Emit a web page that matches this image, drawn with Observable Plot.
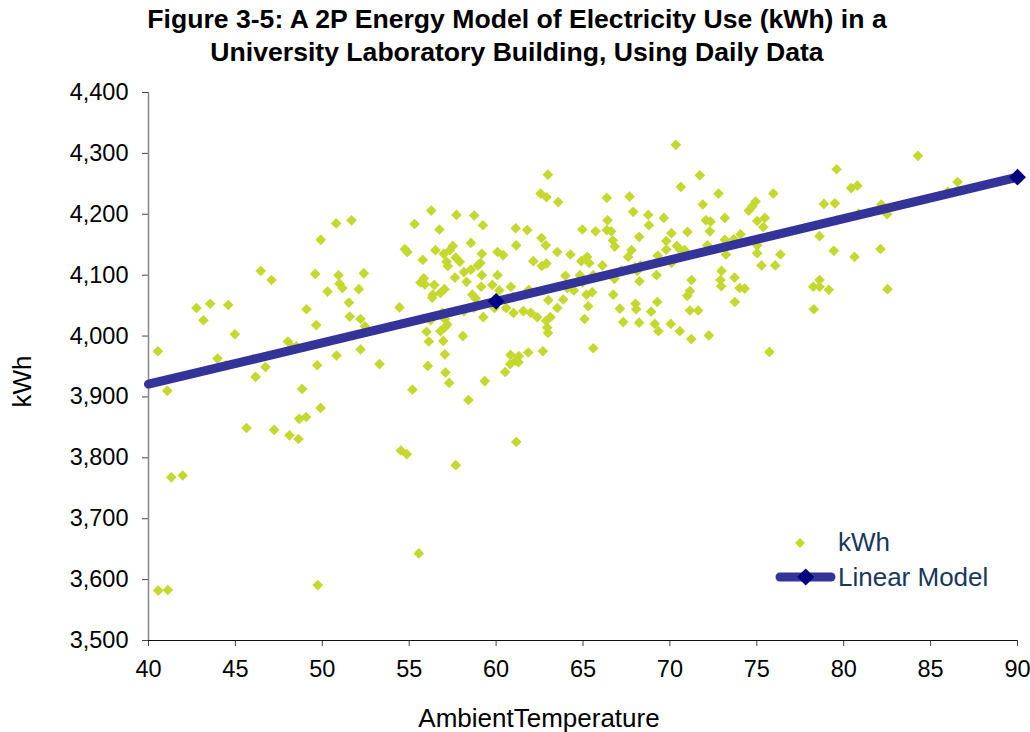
<!DOCTYPE html>
<html><head><meta charset="utf-8">
<script src="https://cdn.jsdelivr.net/npm/d3@7"></script>
<script src="https://cdn.jsdelivr.net/npm/@observablehq/plot@0.6"></script>
<style>
body{margin:0;background:#fff;font-family:"Liberation Sans",Arial,sans-serif;}
#wrap{position:relative;width:1030px;height:732px;overflow:hidden;}
#title{position:absolute;left:0;top:3px;width:1034px;text-align:center;font-weight:bold;font-size:26.6px;line-height:33px;color:#000;}
#legend{position:absolute;left:770px;top:520px;}
</style></head><body>
<div id="wrap">
<div id="chart"></div>
<div id="title">Figure 3-5: A 2P Energy Model of Electricity Use (kWh) in a<br>University Laboratory Building, Using Daily Data</div>
<svg id="legend" width="250" height="80" font-family="Liberation Sans, Arial, sans-serif">
  <path d="M30,18L35,23L30,28L25,23Z" fill="#C4D82D"/>
  <text x="68" y="31" font-size="26" fill="#17375E">kWh</text>
  <line x1="10" y1="57" x2="61" y2="57" stroke="#333399" stroke-width="9" stroke-linecap="round"/>
  <path d="M35.7,48.5L44.2,57L35.7,65.5L27.2,57Z" fill="#000080"/>
  <text x="68" y="66" font-size="26" fill="#17375E">Linear Model</text>
</svg>
</div>
<script>
const temperature = [
50.80,51.68,49.91,46.46,47.08,49.59,50.93,50.99,51.16,50.30,51.53,51.58,42.76,43.55,44.59,43.16,49.09,49.65,44.97,40.54,
48.02,48.27,48.52,43.97,44.45,46.00,46.73,49.71,50.82,46.16,41.08,48.84,49.90,48.67,49.07,45.64,47.23,48.11,48.63,41.31,
41.97,40.56,41.11,49.74,53.29,56.07,57.09,57.30,55.19,59.35,60.52,60.81,61.29,58.41,61.16,54.52,54.86,57.68,55.55,56.27,
55.31,56.74,57.72,58.74,59.24,61.13,61.79,62.98,62.56,62.90,62.61,62.86,61.16,54.75,54.89,56.51,57.51,57.34,58.55,56.99,
57.68,57.91,55.78,57.15,57.22,59.18,60.08,60.41,59.10,58.95,62.14,62.63,62.90,52.39,57.63,58.15,58.55,59.18,60.08,55.84,
55.65,55.90,58.30,56.44,57.03,56.80,56.36,56.32,59.14,59.78,60.85,61.88,60.18,58.63,58.82,52.10,54.44,58.72,58.15,59.91,
60.58,60.98,61.00,61.56,62.00,62.37,63.00,59.26,56.90,56.23,57.05,57.19,56.80,57.05,56.00,52.20,52.45,58.09,56.13,56.96,
62.88,62.94,62.98,52.20,57.05,60.83,61.31,61.85,62.69,61.12,70.34,71.72,70.63,72.80,63.57,66.37,67.68,71.89,67.89,68.75,
69.65,66.41,68.79,72.07,72.34,73.16,74.54,64.96,65.72,66.37,66.62,70.09,71.01,72.30,68.23,66.72,66.83,69.79,73.16,73.68,
74.06,72.15,63.52,64.28,67.79,67.60,69.79,70.40,70.61,70.84,69.30,73.22,64.90,65.24,65.36,66.12,67.20,67.98,68.12,68.31,
70.09,63.99,64.82,65.59,66.81,68.25,69.23,71.24,72.97,72.91,73.72,64.09,64.47,64.96,65.20,65.53,71.15,71.00,72.95,74.01,
74.30,63.86,66.74,63.52,65.30,68.02,68.06,67.12,69.27,68.92,73.74,71.15,71.63,63.13,65.09,67.31,68.23,69.13,69.34,70.05,
70.57,71.23,72.24,65.59,84.27,79.59,75.95,80.43,80.78,74.93,74.74,78.86,79.49,82.16,86.55,85.99,86.57,75.02,75.46,75.37,
79.59,80.87,82.50,78.61,75.02,75.02,76.36,79.43,80.62,82.12,75.27,76.06,78.61,78.25,78.61,79.14,82.52,78.28,75.72
];
const kwh = [
4185,4190,4158,4107,4092,4102,4100,4086,4079,4073,4055,4032,4046,4053,4051,4026,4044,4018,4003,3975,
3991,3981,3983,3963,3952,3962,3949,3952,3968,3933,3910,3913,3882,3864,3867,3849,3846,3837,3831,3768,
3771,3582,3583,3591,3954,3951,3940,3923,3912,3926,3941,3954,3957,3895,3826,3812,3806,3788,3643,4206,
4184,4175,4199,4198,4182,4177,4174,4265,4234,4228,4161,4149,4149,4143,4138,4141,4148,4141,4153,4135,
4129,4122,4125,4122,4115,4135,4138,4133,4120,4116,4123,4115,4119,4103,4096,4105,4109,4100,4100,4095,
4088,4085,4089,4084,4077,4071,4068,4063,4081,4084,4081,4076,4075,4068,4062,4077,4047,4046,4041,4046,
4046,4064,4038,4041,4038,4031,4059,4031,4038,4026,4028,4019,4008,4014,4007,4028,4016,4000,3991,3992,
4025,4014,4005,3978,3970,3969,3967,3973,3975,3959,4314,4264,4245,4234,4220,4227,4229,4216,4204,4199,
4194,4190,4182,4190,4188,4194,4206,4175,4172,4174,4172,4169,4171,4172,4163,4157,4147,4156,4158,4159,
4167,4149,4138,4134,4141,4130,4142,4148,4141,4141,4132,4134,4123,4130,4120,4116,4108,4113,4107,4116,
4120,4099,4100,4100,4094,4090,4100,4092,4107,4092,4096,4079,4075,4088,4068,4072,4074,4066,4082,4079,
4078,4060,4068,4046,4049,4053,4044,4045,4056,4040,4056,4042,4042,4031,4028,4023,4022,4020,4008,4020,
4008,3995,4001,3980,4296,4274,4234,4243,4247,4221,4213,4217,4218,4216,4253,4237,4239,4189,4194,4179,
4190,4201,4200,4164,4149,4136,4134,4140,4130,4143,4116,4116,4092,4081,4081,4076,4077,4044,3974
];
const modelTemp = [40, 60, 90];
const modelKwh = [3921, 4057, 4261];
const markerTemps = [60, 90];
const xTicks = [40, 45, 50, 55, 60, 65, 70, 75, 80, 85, 90];
const yTicks = [3500, 3600, 3700, 3800, 3900, 4000, 4100, 4200, 4300, 4400];

const points = temperature.map((t, i) => ({t, k: kwh[i]}));
const model = modelTemp.map((t, i) => ({t, k: modelKwh[i]}));
const markers = model.filter(d => markerTemps.includes(d.t));

const chart = Plot.plot({
  width: 1030, height: 732,
  marginLeft: 148, marginRight: 13, marginTop: 92, marginBottom: 92,
  style: {fontFamily: '"Liberation Sans", Arial, sans-serif', fontSize: "23.5px", color: "#000", background: "#fff"},
  x: {domain: [40, 90]},
  y: {domain: [3500, 4400]},
  marks: [
    Plot.axisX({ticks: xTicks, tickSize: 6, tickPadding: 14, label: null, stroke: "#444"}),
    Plot.axisY({ticks: yTicks, tickSize: 6, tickPadding: 14, tickFormat: d3.format(","), label: null, stroke: "#444"}),
    Plot.ruleX([40], {stroke: "#868686", strokeWidth: 1.5}),
    Plot.ruleY([3500], {stroke: "#111", strokeWidth: 1.2}),
    Plot.dot(points, {x: "t", y: "k", symbol: "diamond2", r: 4.8, fill: "#C4D82D"}),
    Plot.line(model, {x: "t", y: "k", stroke: "#333399", strokeWidth: 9}),
    Plot.dot(markers, {x: "t", y: "k", symbol: "diamond2", r: 7.6, fill: "#000080"}),
    Plot.text(["kWh"], {frameAnchor: "left", dx: -126, dy: 15, rotate: -90, fontSize: 26, textAnchor: "middle", lineAnchor: "middle"}),
    Plot.text(["AmbientTemperature"], {frameAnchor: "bottom", dx: -44, dy: 78, fontSize: 26, textAnchor: "middle", lineAnchor: "middle"})
  ]
});
document.getElementById("chart").appendChild(chart);
</script>
</body></html>
